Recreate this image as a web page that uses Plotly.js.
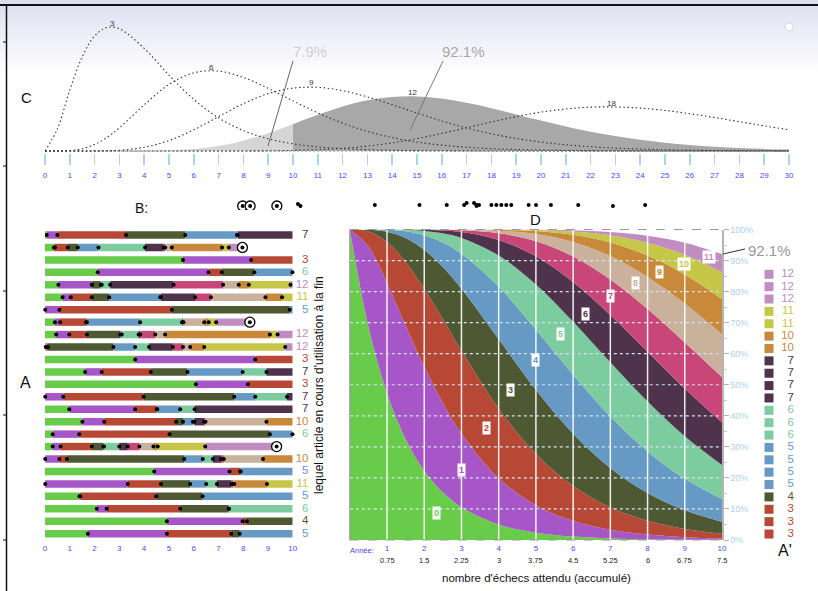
<!DOCTYPE html>
<html><head><meta charset="utf-8">
<script src="https://cdn.plot.ly/plotly-3.0.1.min.js"></script>
<style>
html,body{margin:0;padding:0;}
body{width:818px;height:591px;overflow:hidden;background:linear-gradient(to bottom,#dcdef0 0px,#dcdef0 5px,#dfe1f2 7px,#eaecf7 30px,#f6f6fb 55px,#ffffff 75px,#ffffff 100%);}
#chart{width:818px;height:591px;}
</style></head><body><div id="chart"></div>
<script>
// ---------- DATA ----------
// Panel C: relative densities of time until the k-th failure (k = 3, 6, 9, 12, 18)
const cX = [0,0.5,1,1.5,2,2.5,3,4,5,6,7,8,9,10,11,12,13,14,15,16,17,18,19,20,21,22,23,24,25,26,27,28,29,30];
const c3  = [0,0.0483,0.1329,0.2055,0.2510,0.2696,0.2668,0.2240,0.1654,0.1125,0.0723,0.0446,0.0267,0.0156,0.0089,0.0050,0.0028,0.0015,0.0008,0.0004,0.0002,0.0001,0,0,0,0,0,0,0,0,0,0,0,0];
const c6  = [0,0.00004,0.0009,0.0049,0.0141,0.0296,0.0506,0.1008,0.1454,0.1708,0.1744,0.1606,0.1368,0.1094,0.0832,0.0607,0.0428,0.0293,0.0195,0.0127,0.0082,0.0051,0.0032,0.0019,0.0012,0.0007,0.0004,0.0002,0.0001,0.0001,0,0,0,0];
const c9  = [0,0,0,0.00002,0.00014,0.00058,0.0017,0.0081,0.0228,0.0463,0.0751,0.1033,0.1252,0.1373,0.1390,0.1317,0.1181,0.1009,0.0828,0.0655,0.0503,0.0375,0.0273,0.0195,0.0136,0.0093,0.0063,0.0042,0.0027,0.0018,0.0011,0.0007,0.0004,0.0003];
const c12 = [0,0,0,0,0,0,0.00002,0.0002,0.0012,0.0043,0.0110,0.0225,0.0389,0.0585,0.0789,0.0970,0.1106,0.1180,0.1191,0.1144,0.1053,0.0933,0.0799,0.0663,0.0536,0.0422,0.0325,0.0245,0.0181,0.0132,0.0095,0.0067,0.0046,0.0032];
const c18 = [0,0,0,0,0,0,0,0,0,0,0.00003,0.0001,0.0004,0.0012,0.0028,0.0058,0.0107,0.0178,0.0271,0.0383,0.0507,0.0634,0.0751,0.0848,0.0917,0.0957,0.0961,0.0937,0.0885,0.0814,0.0731,0.0640,0.0549,0.0462];
const curveNames = ['3','6','9','12','18'];
const curveLabelX = [2.73,6.73,10.73,14.83,22.85];
const curveLabelY = [0.279,0.183,0.149,0.128,0.104];
const splitAt = 10;
const pctBefore = '7.9%', pctAfter = '92.1%';

// Panel B: time of 12th failure per run
const bTimes   = [7.97,8.27,9.35,10.2,10.3,13.3,15.1,16.2,16.9,17.0,17.3,17.4,17.4,17.5,18.0,18.2,18.4,18.6,18.8,19.5,19.8,20.4,21.5,22.9,24.2];
const bOffsets = [-1,-1,-1,1,-1,0,0,0,0,2,2,0,-1,0,0,0,0,0,0,0,0,0,0,-1,0];

// Panel A: failure times of each run (years)
const failureTimes = [
 [0.07,0.50,3.27,5.66,7.75,7.78],
 [0.36,0.40,0.92,1.32,2.16,4.04,4.79,4.85,5.12,7.15,7.42,7.97],
 [5.57,8.32],
 [2.13,6.60,7.14,8.45,9.99],
 [0.54,1.89,1.90,2.25,2.29,2.63,5.19,7.19,7.82,8.23,9.91],
 [0.71,1.04,1.89,2.59,4.65,4.67,6.06,6.70,8.90,9.57],
 [0.01,0.58,5.12,9.88],
 [0.40,0.61,1.66,1.69,3.84,5.53,5.56,5.59,6.43,6.61,6.91,8.27],
 [0.45,0.98,1.69,3.04,3.10,3.78,3.85,4.45,4.85,9.08,9.39],
 [0.03,0.07,0.12,2.76,3.64,4.20,5.16,5.57,5.86,6.43,9.70],
 [3.64,8.49],
 [1.62,2.29,4.27,5.75,7.98,8.94],
 [6.09,8.19],
 [0.01,0.74,3.98,7.64,8.49,9.77],
 [0.98,3.64,4.51,4.53,5.46,6.04],
 [1.51,2.39,5.29,5.57,5.97,6.03,6.42,6.48,8.94],
 [0.31,1.38,5.03,9.08,9.99],
 [0.31,0.63,1.89,2.36,2.38,3.00,3.34,3.81,4.38,4.55,6.47,9.35],
 [0.01,0.58,0.88,5.62,6.37,6.78,7.11,7.22,8.80],
 [4.41,7.45,7.88,7.90],
 [0.01,3.34,4.68,5.86,6.51,6.94,7.53,7.60,7.64,8.96],
 [1.39,1.42,4.49,6.36],
 [2.09,2.49,5.46,7.41,7.43],
 [4.92,7.98,8.15],
 [1.73,4.92,7.52,7.86]
];
const nItems = 12, horizon = 10;

// Panel D: cumulative probability P(N <= k) by year
const dYears = [0,0.5,1,1.5,2,2.5,3,4,5,6,7,8,9,10];
const cum0  = [1,0.6873,0.4724,0.3247,0.2231,0.1534,0.1054,0.0498,0.0235,0.0111,0.0052,0.0025,0.0012,0.0006];
const cum1  = [1,0.9450,0.8266,0.6900,0.5578,0.4410,0.3425,0.1991,0.1117,0.0611,0.0328,0.0174,0.0091,0.0047];
const cum2  = [1,0.9933,0.9595,0.8955,0.8088,0.7106,0.6093,0.4232,0.2771,0.1736,0.1051,0.0620,0.0357,0.0203];
const cum3  = [1,0.9994,0.9927,0.9725,0.9344,0.8791,0.8094,0.6472,0.4838,0.3423,0.2317,0.1512,0.0958,0.0591];
const cum4  = [1,1,0.9989,0.9942,0.9814,0.9581,0.9220,0.8153,0.6776,0.5321,0.3978,0.2851,0.1971,0.1321];
const cum5  = [1,1,0.9999,0.9991,0.9955,0.9877,0.9726,0.9161,0.8230,0.7029,0.5722,0.4457,0.3339,0.2414];
const cum6  = [1,1,1,0.9998,0.9991,0.9970,0.9916,0.9665,0.9138,0.8311,0.7248,0.6063,0.4878,0.3782];
const cum7  = [1,1,1,1,0.9998,0.9995,0.9977,0.9881,0.9625,0.9134,0.8393,0.7440,0.6362,0.5246];
const cum8  = [1,1,1,1,1,0.9999,0.9994,0.9962,0.9853,0.9597,0.9144,0.8472,0.7614,0.6620];
const cum9  = [1,1,1,1,1,1,0.9998,0.9989,0.9948,0.9829,0.9582,0.9161,0.8553,0.7764];
const cum10 = [1,1,1,1,1,1,1,0.9997,0.9984,0.9933,0.9812,0.9574,0.9187,0.8622];
const cum11 = [1,1,1,1,1,1,1,0.9999,0.9996,0.9976,0.9922,0.9799,0.9576,0.9208];
const cumBands = [cum0,cum1,cum2,cum3,cum4,cum5,cum6,cum7,cum8,cum9,cum10,cum11];
const bandLabelYears = [2.34,3.01,3.66,4.33,5.0,5.67,6.33,7.01,7.67,8.32,8.99,9.66];
const bandLabelPcts  = [0.088,0.226,0.362,0.482,0.581,0.665,0.729,0.785,0.828,0.862,0.889,0.911];
const yearTicks = [1,2,3,4,5,6,7,8,9,10];
const expectedFailures = ['0.75','1.5','2.25','3','3.75','4.5','5.25','6','6.75','7.5'];
const pctTicks = [0,0.1,0.2,0.3,0.4,0.5,0.6,0.7,0.8,0.9,1];
const finalPct = '92.1%';

// ---------- STYLE ----------
const bandColors=['#68cc4a','#a656c6','#b84836','#4e5933','#6699c3','#7ccca0','#4f334c','#c94679','#c9b19b','#c8893b','#c6c649','#c18cc1'];
const TICK_BLUE='#4848ff';
const FONT='"Liberation Sans", Arial, Helvetica, sans-serif';
const W=818,H=591;
const px=p=>p/W, py=p=>1-p/H;

const traces=[];
// ---------- C ----------
const lightIdx=cX.map((x,i)=>x<=splitAt?i:-1).filter(i=>i>=0);
const darkIdx=cX.map((x,i)=>x>=splitAt?i:-1).filter(i=>i>=0);
traces.push({type:'scatter',mode:'lines',x:lightIdx.map(i=>cX[i]),y:lightIdx.map(i=>c12[i]),line:{shape:'spline',width:0,color:'#d5d5d5'},fill:'tozeroy',fillcolor:'#d5d5d5',xaxis:'x',yaxis:'y',hoverinfo:'skip'});
traces.push({type:'scatter',mode:'lines',x:darkIdx.map(i=>cX[i]),y:darkIdx.map(i=>c12[i]),line:{shape:'spline',width:0,color:'#a8a8a8'},fill:'tozeroy',fillcolor:'#a8a8a8',xaxis:'x',yaxis:'y',hoverinfo:'skip'});
traces.push({type:'scatter',mode:'lines',x:[cX[0],cX[cX.length-1]],y:[0,0],line:{color:'#aaaaaa',width:1.5,dash:'2px,2px'},xaxis:'x',yaxis:'y',hoverinfo:'skip'});
[c3,c6,c9,c18].forEach(arr=>{
  traces.push({type:'scatter',mode:'lines',x:cX,y:arr,line:{shape:'spline',color:'#333333',width:1.1,dash:'1.5px,2.6px'},xaxis:'x',yaxis:'y',hoverinfo:'skip'});
});
// ---------- B ----------
const bCircIdx=bTimes.map((t,i)=>t<horizon?i:-1).filter(i=>i>=0);
const bDotIdx=bTimes.map((t,i)=>t>=horizon?i:-1).filter(i=>i>=0);
traces.push({type:'scatter',mode:'markers',x:bDotIdx.map(i=>bTimes[i]),y:bDotIdx.map(i=>bOffsets[i]),marker:{size:4,color:'#000'},xaxis:'x',yaxis:'y2',hoverinfo:'skip'});
traces.push({type:'scatter',mode:'markers',x:bCircIdx.map(i=>bTimes[i]),y:bCircIdx.map(i=>bOffsets[i]),marker:{size:10,color:'#fff',line:{color:'#000',width:1.3}},xaxis:'x',yaxis:'y2',hoverinfo:'skip'});
traces.push({type:'scatter',mode:'markers',x:bCircIdx.map(i=>bTimes[i]),y:bCircIdx.map(i=>bOffsets[i]),marker:{size:4,color:'#000'},xaxis:'x',yaxis:'y2',hoverinfo:'skip'});

// ---------- A ----------
for(let c=0;c<nItems;c++){
  const ys=[],bases=[],lens=[];
  failureTimes.forEach((ft,r)=>{
    const exhausted=ft.length>=nItems;
    const nSeg=exhausted?nItems:ft.length+1;
    if(c<nSeg){
      const s=c===0?0:ft[c-1];
      const e=Math.min(c<ft.length?ft[c]:horizon,horizon);
      ys.push(r+1);bases.push(s);lens.push(Math.max(e-s,0));
    }
  });
  traces.push({type:'bar',orientation:'h',y:ys,x:lens,base:bases,width:0.6,marker:{color:bandColors[c],line:{width:0}},xaxis:'x3',yaxis:'y3',hoverinfo:'skip'});
}
const dotX=[],dotY=[],endX=[],endY=[];
failureTimes.forEach((ft,r)=>{
  const exhausted=ft.length>=nItems;
  ft.forEach((t,j)=>{
    if(exhausted&&j===nItems-1){endX.push(t);endY.push(r+1);}
    else if(t<=horizon){dotX.push(t);dotY.push(r+1);}
  });
});
traces.push({type:'scatter',mode:'markers',x:dotX,y:dotY,marker:{size:4,color:'#000'},xaxis:'x3',yaxis:'y3',cliponaxis:false,hoverinfo:'skip'});
traces.push({type:'scatter',mode:'markers',x:endX,y:endY,marker:{size:10,color:'#fff',line:{color:'#000',width:1.3}},xaxis:'x3',yaxis:'y3',cliponaxis:false,hoverinfo:'skip'});
traces.push({type:'scatter',mode:'markers',x:endX,y:endY,marker:{size:4,color:'#000'},xaxis:'x3',yaxis:'y3',cliponaxis:false,hoverinfo:'skip'});
const lblY=[],lblT=[],lblC=[];
failureTimes.forEach((ft,r)=>{
  if(ft.length<nItems){lblY.push(r+1);lblT.push(String(ft.length+1));lblC.push(bandColors[ft.length]);}
});
// row labels on their own narrow axis to the right of panel A
traces.push({type:'scatter',mode:'text',x:lblY.map(()=>308.5),y:lblY,text:lblT,textposition:'middle left',textfont:{size:11.5,color:lblC,family:FONT},xaxis:'x6',yaxis:'y3',cliponaxis:false,hoverinfo:'skip'});

// ---------- D ----------
cumBands.forEach((arr,k)=>{
  traces.push({type:'scatter',mode:'lines',x:dYears,y:arr,line:{shape:'spline',width:0,color:bandColors[k]},fill:k===0?'tozeroy':'tonexty',fillcolor:bandColors[k],xaxis:'x4',yaxis:'y4',hoverinfo:'skip'});
});
const vx=[],vy=[];
yearTicks.slice(0,-1).forEach(t=>{vx.push(t,t,null);vy.push(0,1,null);});
traces.push({type:'scatter',mode:'lines',x:vx,y:vy,line:{color:'rgba(255,255,255,0.9)',width:1.5},xaxis:'x4',yaxis:'y4',hoverinfo:'skip'});
const hx=[],hy=[];
pctTicks.filter(p=>p>0&&p<1).forEach(p=>{hx.push(0,horizon,null);hy.push(p,p,null);});
traces.push({type:'scatter',mode:'lines',x:hx,y:hy,line:{color:'#cfe6f0',width:1.2,dash:'3px,3px'},xaxis:'x4',yaxis:'y4',hoverinfo:'skip'});

// ---------- A' legend ----------
const legendCounts=lblT.map(Number).sort((a,b)=>b-a);
const legIdx=legendCounts.map((_,i)=>i+1);
traces.push({type:'scatter',mode:'markers',x:legIdx.map(()=>769),y:legIdx,marker:{symbol:'square',size:9,color:legendCounts.map(c=>bandColors[c-1])},xaxis:'x5',yaxis:'y5',cliponaxis:false,hoverinfo:'skip'});
traces.push({type:'scatter',mode:'text',x:legIdx.map(()=>794),y:legIdx,text:legendCounts.map(String),textposition:'middle left',textfont:{size:11.5,color:legendCounts.map(c=>bandColors[c-1]),family:FONT},xaxis:'x5',yaxis:'y5',cliponaxis:false,hoverinfo:'skip'});

// ---------- annotations ----------
const ann=[];
function txt(x,y,text,size,color,extra){ann.push(Object.assign({xref:'paper',yref:'paper',x:px(x),y:py(y),text:text,showarrow:false,font:{size:size,color:color,family:FONT},xanchor:'center',yanchor:'middle'},extra||{}));}
txt(26,97,'C',15,'#111');
txt(141,208,'B:',14,'#111');
txt(535,219,'D',15,'#111');
txt(25,382,'A',16,'#111');
txt(785,550,"A'",16,'#111');
txt(319,385,"lequel article en cours d'utilisation à la fin",12,'#111',{textangle:-90});
txt(536,578,"nombre d'échecs attendu (accumulé)",11.5,'#111');
txt(309.5,51,pctBefore,15,'#d0d0d0');
txt(463,51,pctAfter,15,'#a8a8a8');
txt(769,250,finalPct,15,'#999999');
txt(361.5,550,'Année:',7.5,TICK_BLUE);
curveNames.forEach((n,i)=>{ann.push({xref:'x',yref:'y',x:curveLabelX[i],y:curveLabelY[i],text:n,showarrow:false,font:{size:8,color:'#333',family:FONT}});});
expectedFailures.forEach((t,i)=>{ann.push({xref:'x4',yref:'paper',x:yearTicks[i],y:py(566.5),text:t,showarrow:false,font:{size:7.5,color:'#222',family:FONT}});});
bandLabelYears.forEach((yr,k)=>{ann.push({xref:'x4',yref:'y4',x:yr,y:bandLabelPcts[k],text:'<b>'+k+'</b>',showarrow:false,bgcolor:'#ffffff',borderpad:1,font:{size:9,color:bandColors[k],family:FONT}});});

// ---------- decorative shapes ----------
const shapes=[];
function ln(x0,y0,x1,y1,color,width,dash){shapes.push({type:'line',xref:'paper',yref:'paper',x0:px(x0),y0:py(y0),x1:px(x1),y1:py(y1),line:{color:color,width:width,dash:dash||'solid'},layer:'above'});}
ln(0,5,818,5,'#111',2);
ln(6.5,5,6.5,591,'#111',1.5);
[42,166,291,415,540].forEach(y=>ln(3,y,6.5,y,'#111',1));
ln(293,61,268,146,'#666',1);
ln(443,61,410,130,'#777',1);
ln(723,254,745,249,'#333',1);
ln(349.8,229.5,349.8,540,'#999',1.2);
ln(349.8,229.5,722,229.5,'#999',1,'dash');
ln(349.8,540,722,540,'#999',1,'dash');
shapes.push({type:'circle',xref:'paper',yref:'paper',x0:px(785),x1:px(793),y0:py(31),y1:py(23),fillcolor:'#fff',line:{color:'#d8d8d8',width:1}});

const layout={
  width:W,height:H,margin:{l:0,r:0,t:0,b:0},
  paper_bgcolor:'rgba(0,0,0,0)',plot_bgcolor:'rgba(0,0,0,0)',
  showlegend:false,barmode:'overlay',font:{family:FONT},
  xaxis:{domain:[px(45),px(789)],range:[0,30],anchor:'y',tickmode:'linear',tick0:0,dtick:1,ticks:'outside',ticklen:11,tickwidth:1.5,tickcolor:'#aad6e6',showgrid:false,zeroline:false,showline:false,tickfont:{size:8,color:TICK_BLUE,family:FONT},ticklabelstandoff:3},
  yaxis:{domain:[py(153),py(20)],range:[-0.0044,0.286],visible:false,anchor:'x'},
  yaxis2:{domain:[py(210),py(200)],range:[-5,5],visible:false,anchor:'x'},
  xaxis3:{domain:[px(45),px(292.7)],range:[0,10],anchor:'y3',tickmode:'linear',tick0:0,dtick:1,ticks:'',showgrid:false,zeroline:false,showline:false,tickfont:{size:8,color:TICK_BLUE,family:FONT},ticklabelstandoff:2},
  yaxis3:{domain:[py(539.9),py(228.8)],range:[25.5,0.5],visible:false,anchor:'x3'},
  xaxis4:{domain:[px(349.8),px(722)],range:[0,10],anchor:'y4',tickmode:'array',tickvals:yearTicks,ticktext:yearTicks.map(String),ticks:'',showgrid:false,zeroline:false,showline:false,tickfont:{size:8,color:TICK_BLUE,family:FONT},ticklabelstandoff:2},
  yaxis4:{domain:[py(540),py(229.5)],range:[0,1],anchor:'x4',side:'right',tickmode:'array',tickvals:pctTicks,ticktext:pctTicks.map(p=>Math.round(p*100)+'%'),showgrid:false,zeroline:false,showline:true,linecolor:'#b4b4b4',linewidth:1.5,ticks:'outside',ticklen:5,tickcolor:'#b4b4b4',tickfont:{size:9,color:'#a8d5e6',family:FONT},minor:{ticks:'outside',ticklen:3,dtick:0.05,tickcolor:'#c8c8c8'}},
  xaxis5:{domain:[px(755),px(800)],range:[755,800],visible:false,anchor:'y5'},
  yaxis5:{domain:[py(540.2),py(268.1)],range:[22.5,0.5],visible:false,anchor:'x5'},
  xaxis6:{domain:[px(293),px(312)],range:[293,312],visible:false,anchor:'y3'},
  annotations:ann,shapes:shapes
};
Plotly.newPlot('chart',traces,layout,{displayModeBar:false,staticPlot:true});
</script></body></html>
